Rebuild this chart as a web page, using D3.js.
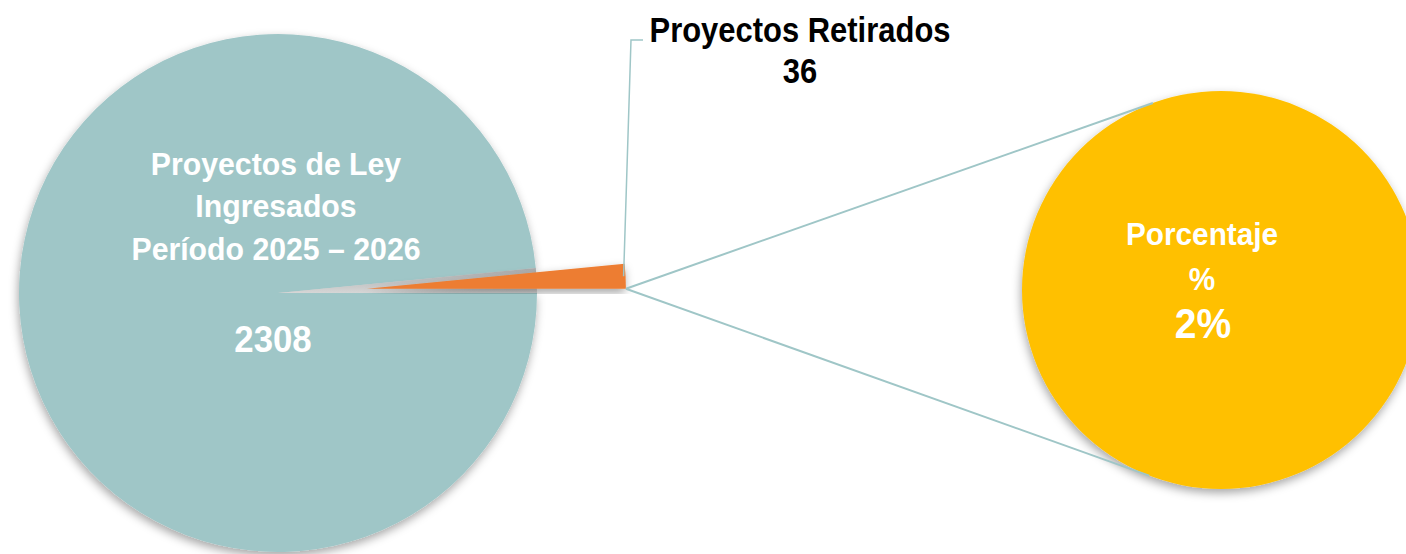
<!DOCTYPE html>
<html>
<head>
<meta charset="utf-8">
<script src="https://cdn.jsdelivr.net/npm/d3@7/dist/d3.min.js"></script>
<style>
  html, body { margin: 0; padding: 0; background: #fff; }
  svg { display: block; font-family: "Liberation Sans Narrow", "Arial Narrow", "Liberation Sans", Arial, sans-serif; font-weight: bold; }
</style>
</head>
<body>
<div id="chart"></div>
<script>
// data
const categories = ["Proyectos de Ley Ingresados Período 2025 – 2026", "Proyectos Retirados"];
const values = [2308, 36];
const mainLabel = ["Proyectos de Ley", "Ingresados", "Período 2025 – 2026"];
const subLabel = ["Porcentaje", "%"];
const colors = ["#9fc6c7", "#ed7d31"];
const subColor = "#ffc000";

const width = 1406, height = 554;
const cx = 278, cy = 293, r = 259;       // main pie
const explode = 89;                       // offset of the small slice
const sx = 1221, sy = 290, sr = 199;      // second pie
const joinAngle = 20 * Math.PI / 180;     // where the connectors meet the second pie

const svg = d3.create("svg")
    .attr("width", width)
    .attr("height", height)
    .attr("viewBox", [0, 0, width, height]);

const defs = svg.append("defs");
const shadow = defs.append("filter").attr("id", "shadow")
    .attr("x", "-20%").attr("y", "-20%").attr("width", "140%").attr("height", "140%");
shadow.append("feDropShadow")
    .attr("dx", -1).attr("dy", 4).attr("stdDeviation", 5)
    .attr("flood-color", "#000").attr("flood-opacity", 0.35);

const gapGrad = defs.append("linearGradient").attr("id", "gap")
    .attr("x1", 0).attr("y1", 0).attr("x2", 0).attr("y2", 1);
gapGrad.append("stop").attr("offset", "0%").attr("stop-color", "#aaaaaa");
gapGrad.append("stop").attr("offset", "100%").attr("stop-color", "#d6d6d6");

// slice of the retired projects ends at 3 o'clock, going counter-clockwise
const pie = d3.pie().sort(null)
    .startAngle(Math.PI / 2)
    .endAngle(Math.PI / 2 + 2 * Math.PI);
const arcs = pie(values);
const arc = d3.arc().innerRadius(0).outerRadius(r);

const small = arcs[1];
const mid = (small.startAngle + small.endAngle) / 2;
const ox = explode * Math.sin(mid), oy = -explode * Math.cos(mid);

// main pie
const g = svg.append("g").attr("transform", `translate(${cx},${cy})`);
g.append("path")
    .attr("d", arc(arcs[0]))
    .attr("fill", colors[0])
    .attr("filter", "url(#shadow)");
// shaded gap left by the exploded slice
g.append("path")
    .attr("d", arc(small))
    .attr("fill", "url(#gap)");

// exploded slice
const sg = svg.append("g").attr("transform", `translate(${cx + ox},${cy + oy})`);
sg.append("path")
    .attr("d", arc(small))
    .attr("fill", colors[1])
    .attr("filter", "url(#shadow)");

// second pie
const subArcs = d3.pie().sort(null)([values[1]]);
const subArc = d3.arc().innerRadius(0).outerRadius(sr);
svg.append("g").attr("transform", `translate(${sx},${sy})`)
  .append("path")
    .attr("d", subArc(subArcs[0]))
    .attr("fill", subColor)
    .attr("filter", "url(#shadow)");

// connectors from the slice edge to the second pie
const start = [cx + ox + r * Math.sin(small.endAngle), cy + oy - r * Math.cos(small.endAngle)];
const ends = [
  [sx - sr * Math.sin(joinAngle), sy - sr * Math.cos(joinAngle)],
  [sx - sr * Math.sin(joinAngle + 0.02), sy + sr * Math.cos(joinAngle + 0.02)]
];
svg.append("g")
    .attr("stroke", "#9fc6c7")
    .attr("stroke-width", 2)
    .attr("fill", "none")
  .selectAll("line")
  .data(ends)
  .join("line")
    .attr("x1", start[0]).attr("y1", start[1])
    .attr("x2", d => d[0]).attr("y2", d => d[1]);

// leader line for the small slice label
const lead0 = [cx + ox + (r - 2) * Math.sin(mid), cy + oy - (r - 2) * Math.cos(mid)];
svg.append("path")
    .attr("d", d3.line()([lead0, [631, 40], [643, 40]]))
    .attr("fill", "none")
    .attr("stroke", "#9fc6c7")
    .attr("stroke-width", 1.5);

// labels: narrow look obtained by squeezing horizontally
function label(x, k, size, fill, lines, y0, step) {
  const t = svg.append("g")
      .attr("transform", `translate(${x},0) scale(${k},1)`)
    .append("text")
      .attr("text-anchor", "middle")
      .attr("fill", fill)
      .attr("font-size", size);
  t.selectAll("tspan")
    .data(lines)
    .join("tspan")
      .attr("x", 0)
      .attr("y", (d, i) => y0 + i * step)
      .text(d => d);
}

label(800, 0.86, 36, "#000", [categories[1], values[1]], 42, 41);
label(276, 0.945, 32, "#fff", mainLabel, 175, 42.5);
label(273, 0.94, 37, "#fff", [values[0]], 352, 0);

const pct = values[1] / (values[0] + values[1]);
label(1202, 0.93, 32, "#fff", subLabel, 245, 45);
label(1203, 0.93, 42, "#fff", [d3.format(".0%")(pct)], 338, 0);

d3.select("#chart").append(() => svg.node());
</script>
</body>
</html>
